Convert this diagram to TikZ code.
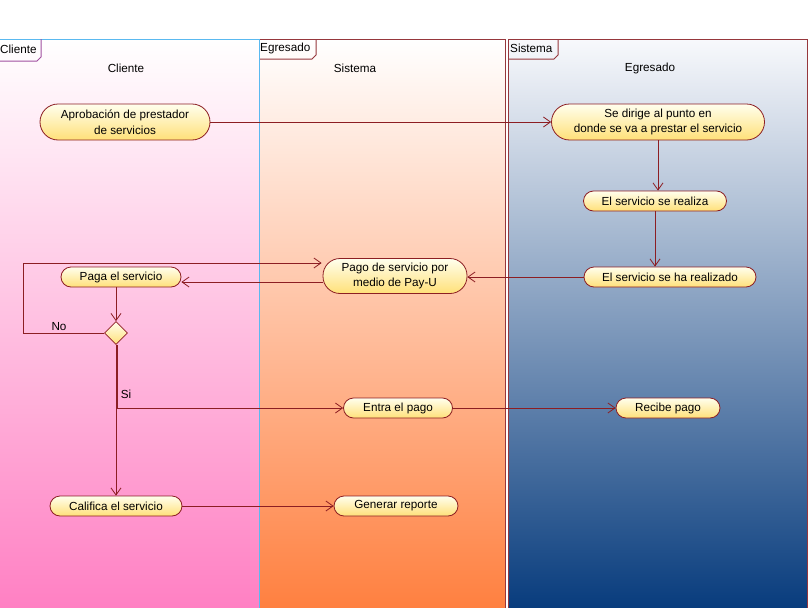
\documentclass[tikz,border=0pt]{standalone}
\usepackage{fontspec}
\setmainfont{Liberation Sans}
\usetikzlibrary{shapes.geometric,arrows.meta}
\definecolor{edgec}{RGB}{140,30,35}
\definecolor{nodetop}{RGB}{255,255,238}
\definecolor{nodebot}{RGB}{255,224,120}
\definecolor{laneonebot}{RGB}{255,128,195}
\definecolor{lanetwobot}{RGB}{255,128,64}
\definecolor{lanethreetop}{RGB}{248,249,252}
\definecolor{lanethreebot}{RGB}{8,60,125}
\definecolor{laneoneframe}{RGB}{90,185,240}
\definecolor{laneframe}{RGB}{150,55,60}
\definecolor{tabpurple}{RGB}{160,80,160}
\tikzset{
  x=1pt,y=1pt,
  act/.style={draw=edgec, line width=0.8pt, top color=nodetop, bottom color=nodebot,
     rounded corners=#1, inner sep=0pt, align=center, font=\fontsize{11.7}{15.5}\selectfont},
  flow/.style={draw=edgec, line width=0.8pt, -{Straight Barb[length=7pt,width=10pt,line width=0.8pt]}},
  dec/.style={diamond, draw=edgec, line width=0.8pt, top color=nodetop, bottom color=nodebot,
     minimum width=23pt, minimum height=23pt, inner sep=0pt},
  lbl/.style={font=\fontsize{11.7}{13}\selectfont, inner sep=0pt}
}
\begin{document}
\begin{tikzpicture}
\useasboundingbox (0,0) rectangle (809,-608);
\fill[white] (0,0) rectangle (809,-608);
% lanes
\shade[top color=white, bottom color=laneonebot] (0,-39) rectangle (259,-608);
\shade[top color=white, bottom color=lanetwobot] (260,-39) rectangle (505,-608);
\shade[top color=lanethreetop, bottom color=lanethreebot] (508,-39) rectangle (807,-608);
\draw[laneframe, line width=1pt] (259,-39) -- (505,-39) -- (505,-608);
\draw[laneframe, line width=1pt] (508,-608) -- (508,-39) -- (807,-39) -- (807,-608);
\draw[laneoneframe, line width=1pt] (0,-39) -- (259,-39) -- (259,-608);
% tabs
\draw[tabpurple, line width=1pt] (0,-61) -- (37,-61) -- (41,-57) -- (41,-39);
\draw[laneframe, line width=1pt] (260,-59) -- (312,-59) -- (316,-55) -- (316,-39);
\draw[laneframe, line width=1pt] (508,-59) -- (554,-59) -- (558,-55) -- (558,-39);
\node[lbl, anchor=west] (tabone) at (0,-49) {Cliente};
\node[lbl, anchor=west] (tabtwo) at (260,-48) {Egresado};
\node[lbl, anchor=west] (tabthree) at (510,-48) {Sistema};
\node[lbl] (headone) at (126,-68) {Cliente};
\node[lbl] (headtwo) at (355,-68) {Sistema};
\node[lbl] (headthree) at (650,-68) {Egresado};
% activities
\node[act=18pt, minimum width=170pt, minimum height=36pt] (A) at (125,-122) {Aprobación de prestador\\de servicios};
\node[act=18pt, minimum width=213pt, minimum height=36pt] (B) at (658,-122) {Se dirige al punto en\\donde se va a prestar el servicio};
\node[act=10pt, minimum width=143pt, minimum height=20pt] (C) at (655,-201) {El servicio se realiza};
\node[act=10pt, minimum width=172pt, minimum height=20pt] (D) at (670,-277) {El servicio se ha realizado};
\node[act=17pt, minimum width=144pt, minimum height=35pt] (E) at (395,-276) {Pago de servicio por\\medio de Pay-U};
\node[act=10pt, minimum width=120pt, minimum height=20pt] (F) at (121,-277) {Paga el servicio};
\node[dec] (G) at (116,-333) {};
\node[act=10pt, minimum width=109pt, minimum height=20pt] (H) at (398,-408) {Entra el pago};
\node[act=10pt, minimum width=104pt, minimum height=20pt] (I) at (668,-408) {Recibe pago};
\node[act=10pt, minimum width=132pt, minimum height=20pt] (J) at (116,-506) {Califica el servicio};
\node[act=10pt, minimum width=124pt, minimum height=20pt] (K) at (396,-506) {Generar reporte};
% flows
\draw[flow] (A) -- (B);
\draw[flow] (B.south) -- (B.south |- C.north);
\draw[flow] (C.south) -- (C.south |- D.north);
\draw[flow] (D.west) -- (D.west -| E.east);
\draw[flow] ([yshift=-6pt]E.west) -- ([yshift=-6pt]E.west -| F.east);
\draw[flow] (G.north |- F.south) -- (G.north);
\coordinate (noturn) at (23,-333);
\draw[flow] (G.west) -- (noturn) |- ([yshift=13pt, xshift=-1pt]E.west);
\node[lbl] (nolbl) at (59,-327) {No};
\draw[flow] ([xshift=1pt]G.south) |- (H.west);
\node[lbl] (silbl) at (126,-394) {Si};
\draw[flow] (G.south) -- (G.south |- J.north);
\draw[flow] (J) -- (K);
\draw[flow] (H) -- (I);
\end{tikzpicture}
\end{document}
